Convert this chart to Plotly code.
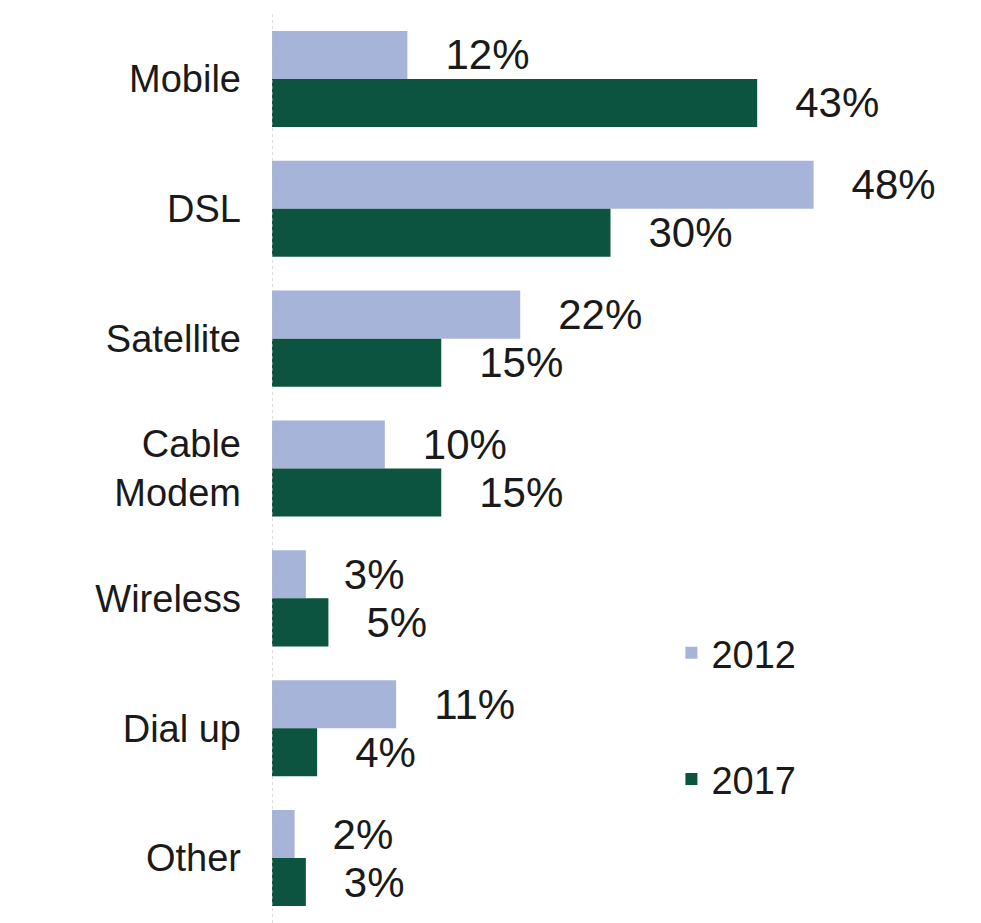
import plotly.graph_objects as go

# Data
categories = ["Mobile", "DSL", "Satellite", "Cable<br>Modem", "Wireless", "Dial up", "Other"]
share_2012 = [12, 48, 22, 10, 3, 11, 2]
share_2017 = [43, 30, 15, 15, 5, 4, 3]

BLUE = "#A7B4D9"
GREEN = "#0C5340"
FONT = "Liberation Sans, Arial, sans-serif"


def _label(vals):
    # leading spaces push the value away from the bar end, as in the original
    return [f"   {v}%" for v in vals]


fig = go.Figure()
fig.add_trace(go.Bar(
    y=categories,
    x=share_2012,
    name="2012",
    orientation="h",
    marker=dict(color=BLUE, line=dict(width=0)),
    text=_label(share_2012),
    textposition="outside",
    constraintext="none",
    cliponaxis=False,
    textfont=dict(size=42, family=FONT, color="#1a1a1a"),
    showlegend=True,
    legend="legend",
))
fig.add_trace(go.Bar(
    y=categories,
    x=share_2017,
    name="2017",
    orientation="h",
    marker=dict(color=GREEN, line=dict(width=0)),
    text=_label(share_2017),
    textposition="outside",
    constraintext="none",
    cliponaxis=False,
    textfont=dict(size=42, family=FONT, color="#1a1a1a"),
    showlegend=True,
    legend="legend2",
))

# dotted axis line at zero
fig.add_shape(type="line", xref="x", yref="paper", x0=0, x1=0, y0=0, y1=1,
              line=dict(color="#BBBBBB", width=1, dash="dot"))

legend_style = dict(
    font=dict(size=38, family=FONT, color="#1a1a1a"),
    bgcolor="rgba(0,0,0,0)",
    xanchor="left",
    yanchor="middle",
    x=0.59,
    visible=True,
)

# page body adds an 8px margin, so the figure is 8px smaller than the window
fig.update_layout(
    width=973,
    height=915,
    margin=dict(l=264, r=32, t=6, b=0),
    plot_bgcolor="white",
    paper_bgcolor="white",
    font=dict(family=FONT, color="#1a1a1a"),
    showlegend=True,
    barmode="group",
    bargap=0.26,
    bargroupgap=0,
    xaxis=dict(range=[0, 60], visible=False),
    yaxis=dict(
        autorange="reversed",
        showgrid=False,
        showline=False,
        ticks="",
        tickfont=dict(size=38, family=FONT, color="#1a1a1a"),
        ticklabelstandoff=30,
    ),
    legend=dict(y=0.297, **legend_style),
    legend2=dict(y=0.158, **legend_style),
)

fig.write_html("out.html")
